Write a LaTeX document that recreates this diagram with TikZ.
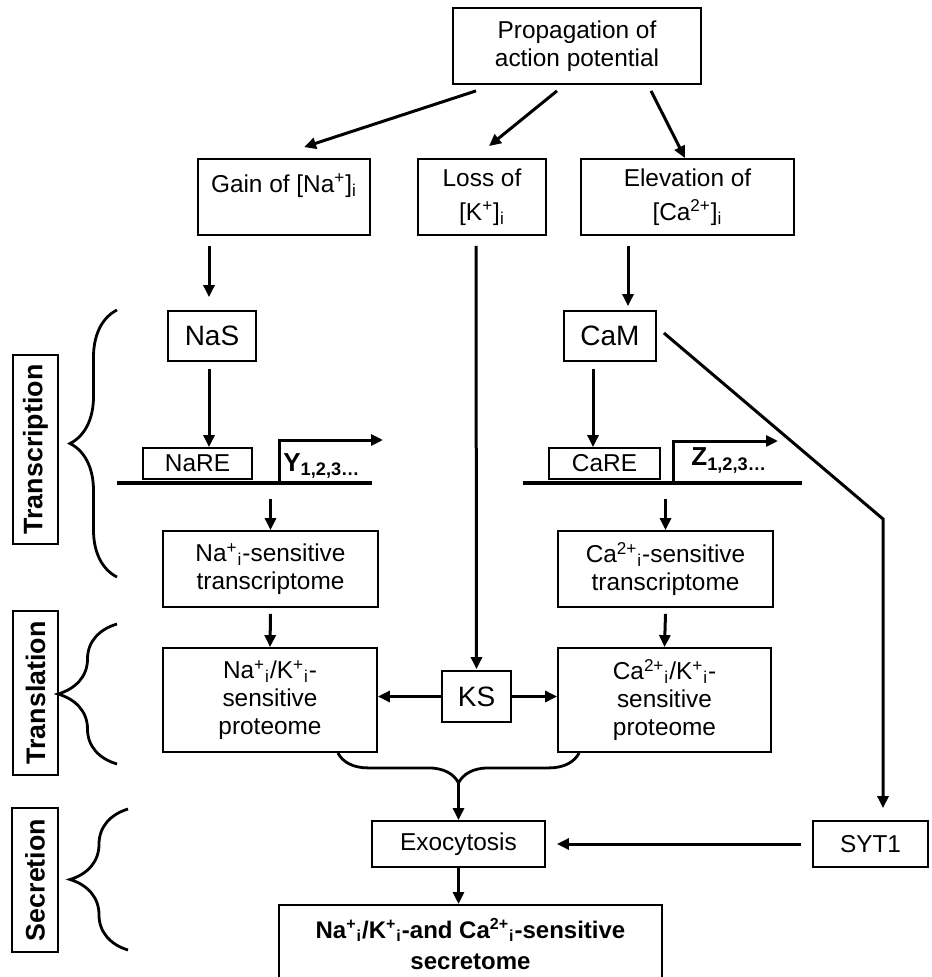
\documentclass[tikz,border=0pt]{standalone}
\usepackage{fontspec}
\setmainfont{Liberation Sans}
\usetikzlibrary{arrows.meta,positioning,calc,decorations.pathreplacing}
\newcommand{\spi}[1]{\textsuperscript{#1}\textsubscript{i}}
\newcommand{\subi}{\textsubscript{i}}
\tikzset{
  box/.style = {draw, line width=0.9pt, align=center, inner sep=1pt, font=\fontsize{12.2}{14}\selectfont},
  bigbox/.style = {box, font=\fontsize{14}{16}\selectfont},
  arr/.style = {-{Triangle[length=6pt,width=5.5pt]}, line width=1.5pt},
  dna/.style = {line width=2pt},
  brc/.style = {line width=1.4pt, decorate, decoration={brace, amplitude=#1}},
  stage/.style = {draw, line width=0.9pt, rotate=90, inner sep=1pt, font=\bfseries\fontsize{13.4}{14}\selectfont},
}

\begin{document}
\begin{tikzpicture}[x=0.5pt, y=-0.5pt]
\useasboundingbox (0,0) rectangle (931,977);

% stimulus and ion changes
\node[box, minimum width=124pt, minimum height=38pt] (prop) at (577,46) {Propagation of\\action potential};
\node[box, minimum width=86pt, minimum height=38pt] (gain) at (284,197) {Gain of [Na\textsuperscript{+}]\subi\\[-4pt]\strut};
\node[box, minimum width=64pt, minimum height=38pt] (loss) at (482,197) {Loss of\\[3pt][K\textsuperscript{+}]\subi};
\node[box, minimum width=106.5pt, minimum height=38pt] (elev) at (687.5,197) {Elevation of\\[3pt][Ca\textsuperscript{2+}]\subi};

% sensors
\node[bigbox, minimum width=44pt, minimum height=25pt] (nas) at (212,336) {NaS};
\node[bigbox, minimum width=46pt, minimum height=25pt] (cam) at (610,336) {CaM};
\node[bigbox, minimum width=34.5pt, minimum height=25.5pt] (ks) at (476.5,696.5) {KS};

% response elements and genes
\node[box, minimum width=54.5pt, minimum height=15.5pt] (nare) at (197.5,463.5) {NaRE};
\node[box, minimum width=55.5pt, minimum height=15.5pt] (care) at (604.5,463.5) {CaRE};
\coordinate (dnaL1) at (117,483);
\coordinate (dnaL2) at (372,483);
\coordinate (dnaR1) at (523,483);
\coordinate (dnaR2) at (802,483);
\coordinate (tssY) at (279,483);
\coordinate (endY) at (383,440);
\coordinate (tssZ) at (673,483);
\coordinate (endZ) at (778,441);
\draw[dna] (dnaL1) -- (dnaL2);
\draw[dna] (dnaR1) -- (dnaR2);
\draw[arr] (tssY) |- (endY);
\draw[arr] (tssZ) |- (endZ);
\node[anchor=base west, inner sep=0pt, font=\bfseries\fontsize{13}{14}\selectfont] (ylab) at (283,471) {Y\textsubscript{1,2,3\ldots}};
\node[anchor=base west, inner sep=0pt, font=\bfseries\fontsize{13}{14}\selectfont] (zlab) at (691,466) {Z\textsubscript{1,2,3\ldots}};

% transcriptomes and proteomes
\node[box, minimum width=107.5pt, minimum height=38pt] (natx) at (270.5,569) {Na\spi{+}-sensitive\\transcriptome};
\node[box, minimum width=107.5pt, minimum height=38pt] (catx) at (665.5,569) {Ca\spi{2+}-sensitive\\transcriptome};
\node[box, minimum width=107pt, minimum height=52pt] (napr) at (270,700) {Na\spi{+}/K\spi{+}-\\sensitive\\proteome};
\node[box, minimum width=106.5pt, minimum height=52pt] (capr) at (664.5,700) {Ca\spi{2+}/K\spi{+}-\\sensitive\\proteome};

% secretion
\node[box, minimum width=86.5pt, minimum height=23pt] (exo) at (458.5,844) {Exocytosis};
\node[box, minimum width=57.5pt, minimum height=23pt] (syt) at (870.5,844) {SYT1};
\node[box, anchor=north, minimum width=191.5pt, minimum height=39pt, font=\bfseries\fontsize{12}{15.5}\selectfont] (secr) at (470.5,904) {Na\spi{+}/K\spi{+}-and Ca\spi{2+}-sensitive\\secretome};

% stage labels
\node[stage, minimum width=94.5pt, minimum height=22.5pt] (sttr) at (35.5,449.5) {Transcription};
\node[stage, minimum width=82pt, minimum height=22.5pt] (sttl) at (35.5,693) {Translation};
\node[stage, minimum width=72pt, minimum height=23pt] (stse) at (35,880) {Secretion};
\draw[brc=23.5pt] (117,577) -- (117,310);
\draw[brc=29.5pt] (117,764) -- (117,624);
\draw[brc=29pt] (128,950) -- (128,809);

% arrows
\draw[arr] ($(prop.south)+(-101,6)$) -- ($(gain.north)+(20,-11)$);
\draw[arr] ($(prop.south)+(-20,6)$) -- ($(loss.north)+(7,-12)$);
\draw[arr] ($(prop.south)+(74,6)$) -- ($(elev.north)+(-2.5,0)$);
\draw[arr] ($(gain.south)+(-75,10)$) -- ($(nas.north)+(-3,-13)$);
\draw[arr] ($(nas.south)+(-3,7)$) -- ($(nare.north)+(11.5,0)$);
\draw[arr] ($(elev.south)+(-59.5,10)$) -- ($(cam.north)+(18,-4)$);
\draw[arr] ($(cam.south)+(-17,7)$) -- ($(care.north)+(-11.5,0)$);
\draw[arr] ($(loss.south)+(-6,10)$) -- ($(ks.north)+(0,-1)$);
\draw[arr] ($(natx.north)+(0,-31)$) -- (natx.north);
\draw[arr] ($(catx.north)+(0,-31)$) -- (catx.north);
\draw[arr] ($(natx.south)+(0,6)$) -- (napr.north);
\draw[arr] ($(catx.south)+(0,6)$) -- (capr.north);
\draw[arr] (ks.west) -- (ks.west -| napr.east);
\draw[arr] (ks.east) -- (ks.east -| capr.west);

% CaM to SYT1
\coordinate (kink) at (883,519);
\draw[arr] ($(cam.east)+(7,-3)$) -- (kink) -- ($(syt.north)+(12.5,-12)$);
\draw[arr] ($(syt.west)+(-11,0)$) -- ($(exo.east)+(11,0)$);

% proteomes join into exocytosis
\draw[brc=15pt] ($(capr.south west)+(22,0)$) -- ($(napr.south east)+(-40,0)$);
\coordinate (bt) at (458.5,782);
\draw[arr] (bt) -- (exo.north);
\draw[arr] (exo.south) -- (exo.south |- secr.north);

\end{tikzpicture}
\end{document}
